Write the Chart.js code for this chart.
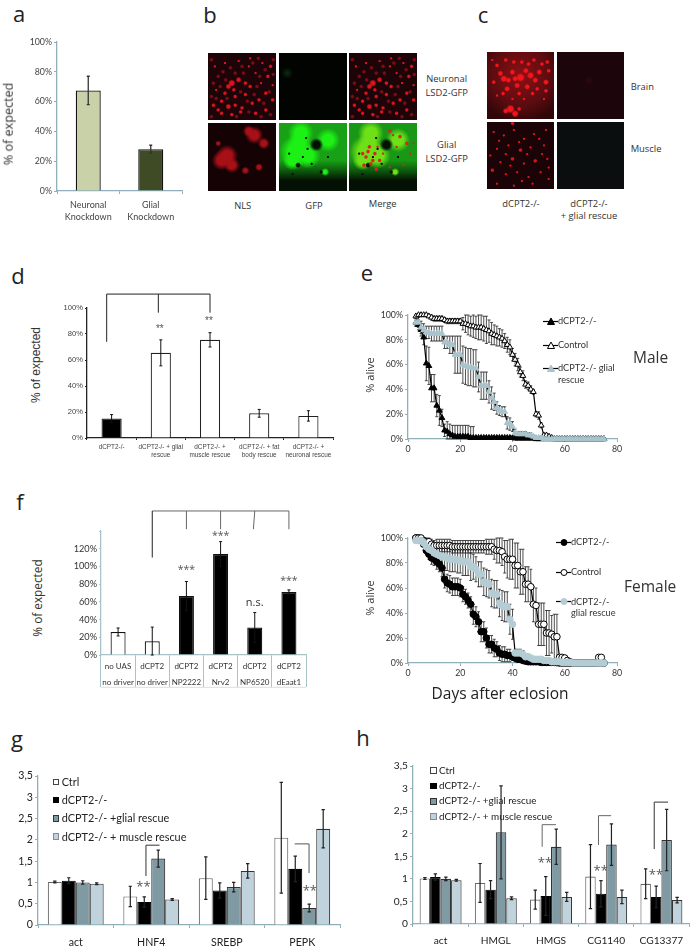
<!DOCTYPE html>
<html>
<head>
<meta charset="utf-8">
<script src="https://cdn.jsdelivr.net/npm/chart.js@4"></script>
<style>
  html, body { margin: 0; background: #fff; }
  #page { position: relative; width: 693px; height: 951px; overflow: hidden; font-family: "Open Sans", sans-serif; color: #333; }
  #page canvas { position: absolute; }
  .t { position: absolute; white-space: nowrap; line-height: 1; }
  .pic { position: absolute; overflow: hidden; }
  .pic i { position: absolute; inset: 0; filter: blur(0.7px); }
  svg { position: absolute; overflow: visible; }
</style>
</head>
<body>
<div id="page"></div>
<script>
const AXIS = "#8fb0ba";
const SLATE = "#7f9aa3";
const PALE = "#c0d3dc";

// a
const aLabels = [["Neuronal", "Knockdown"], ["Glial", "Knockdown"]];
const aValues = [67.5, 28];
const aErr = [9.5, 2.7];

// d
const dLabels = [["dCPT2-/-"], ["dCPT2-/- + glial", "rescue"], ["dCPT2-/- +", "muscle rescue"], ["dCPT2-/- + fat", "body rescue"], ["dCPT2-/- +", "neuronal rescue"]];
const dValues = [15, 65.5, 75.5, 19, 17];
const dErr = [3, 10, 5.5, 3, 4];

// f
const fLabels = [["no UAS", "no driver"], ["dCPT2", "no driver"], ["dCPT2", "NP2222"], ["dCPT2", "Nrv2"], ["dCPT2", "NP6520"], ["dCPT2", "dEaat1"]];
const fValues = [26, 15.5, 66.5, 114, 31, 71];
const fErr = [4.5, 16, 16.5, 14, 17, 2.5];

// e, days 3 to 75
const days = [3,4,5,6,7,8,9,10,11,12,13,14,15,16,17,18,19,20,21,22,23,24,25,26,27,28,29,30,31,32,33,34,35,36,37,38,39,40,41,42,43,44,45,46,47,48,49,50,51,52,53,54,55,56,57,58,59,60,61,62,63,64,65,66,67,68,69,70,71,72,73,74,75];

const maleNull = [94,92,88,82,61,59,41,41,27,23,17,7,6,4,3,2,2,2,2,2,2,1,1,1,1,1,1,1,1,1,1,1,1,1,1,1,1,1,.5,.5,.5,.5,.5,.5,.5,.5,0,0,0,0,0,0,0,0,0,0,0,0,0,0,0,0,0,0,0,0,0,0,0,0,0,0,0];
const maleNullErr = [3,4,5,6,14,15,11,11,9,12,7,5,8,8,8,9,9,9,9,9,9,9,9,1,0,0,0,0,0,0,0,0,0,0,0,0,0,0,0,0,0,0,0,0,0,0,0,0,0,0,0,0,0,0,0,0,0,0,0,0,0,0,0,0,0,0,0,0,0,0,0,0,0];
const maleCtrl = [99,100,100,100,100,99,98,97,97,97,97,96,95,95,95,95,95,95,93,93,92,91,91,90,90,90,89,88,87,85,84,83,82,81,79,76,74,68,64,60,54,51,44,43,40,38,20,19,11,3,3,2,1,0,0,0,0,0,0,0,0,0,0,0,0,0,0,0,0,0,0,0,0];
const maleCtrlErr = [1,0,0,0,0,1,2,2,2,2,2,2,2,2,2,2,2,2,5,7,8,8,9,9,10,10,10,11,9,9,8,8,7,7,6,6,6,5,5,5,4,4,3,3,3,2,2,3,2,1,1,1,0,0,0,0,0,0,0,0,0,0,0,0,0,0,0,0,0,0,0,0,0];
const maleGlial = [94,94,90,88,86,86,85,85,85,85,85,78,78,76,76,68,68,68,60,59,58,58,57,57,50,43,43,43,38,33,30,25,23,22,22,13,12,10,5,4,4,4,4,3,3,2,1,1,1,0,0,0,0,0,0,0,0,0,0,0,0,0,0,0,0,0,0,0,0,0,0,0,0];
const maleGlialErr = [3,4,5,5,5,5,6,6,6,6,6,5,5,7,7,15,15,15,15,15,15,15,15,15,12,11,11,11,9,9,7,5,4,4,4,5,5,4,3,2,2,2,2,2,2,1,1,1,0,0,0,0,0,0,0,0,0,0,0,0,0,0,0,0,0,0,0,0,0,0,0,0,0];

const femaleNull = [100,100,98,95,90,87,84,83,81,79,76,67,64,63,61,61,61,60,55,53,50,47,39,37,33,25,25,20,15,15,12,11,8,7,7,6,6,5,4,3,3,2,1.5,1,1,1,1,1,.5,.5,.5,.5,.5,.5,.3,0,0,0,0,0,0,0,0,0,0,0,0,0,0,0,0,0,0];
const femaleNullErr = [0,0,1,2,3,4,5,5,6,6,7,7,7,7,7,7,7,7,6,6,6,6,8,8,8,8,8,8,7,7,7,6,6,6,6,5,5,3,3,2,2,1,1,1,0,0,0,0,0,0,0,0,0,0,0,0,0,0,0,0,0,0,0,0,0,0,0,0,0,0,0,0,0];
const femaleCtrl = [100,100,100,98,97,97,95,94,94,94,94,94,94,94,93,93,93,93,93,93,93,93,93,93,93,93,93,93,93,93,91,90,90,89,85,83,83,83,78,78,73,73,63,63,61,47,46,31,31,31,24,24,23,21,21,4.5,4.5,4,2,1,0,0,0,0,0,0,0,0,0,0,4.5,4.5,0];
const femaleCtrlErr = [0,0,0,1,3,4,4,4,5,5,5,5,5,5,5,5,5,5,5,5,5,5,5,5,5,5,5,6,6,6,8,10,10,11,13,15,16,16,18,18,18,18,14,14,14,14,14,17,17,17,18,18,15,18,18,2,1,1,1,1,0,0,0,0,0,0,0,0,0,0,0,0,0];
const femaleGlial = [98,98,98,96,93,91,90,88,87,86,85,85,84,83,83,83,82,82,81,81,81,77,77,75,71,71,65,64,63,56,55,55,48,46,45,45,35,31,8,8,8,7,5,5,4,3,3,3,3,2,2,2,1,1,1,1,.5,.5,.5,.5,0,0,0,0,0,0,0,0,0,0,0,0,0];
const femaleGlialErr = [1,1,2,3,4,5,6,7,8,8,9,9,10,10,10,10,10,10,11,11,11,11,10,10,10,10,11,11,11,11,11,11,11,12,12,12,12,12,3,3,3,3,2,2,2,1,1,1,1,1,1,1,0,0,0,0,0,0,0,0,0,0,0,0,0,0,0,0,0,0,0,0,0];

// g
const gLabels = ["act", "HNF4", "SREBP", "PEPK"];
const gCtrl = [1.01, .67, 1.1, 2.05];
const gCtrlErr = [.02, .24, .5, 1.3];
const gNull = [1.04, .54, .81, 1.32];
const gNullErr = [.07, .12, .18, .3];
const gGlial = [1.0, 1.56, .89, .4];
const gGlialErr = [.04, .2, .11, .09];
const gMuscle = [.97, .6, 1.27, 2.26];
const gMuscleErr = [.02, .02, .17, .45];

// h
const hLabels = ["act", "HMGL", "HMGS", "CG1140", "CG13377"];
const hCtrl = [1.01, .91, .54, 1.05, .89];
const hCtrlErr = [.02, .43, .21, .71, .33];
const hNull = [1.04, .76, .62, .67, .6];
const hNullErr = [.07, .2, .43, .29, .24];
const hGlial = [1.0, 2.03, 1.71, 1.76, 1.86];
const hGlialErr = [.04, 1.03, .39, .46, .68];
const hMuscle = [.97, .57, .6, .6, .53];
const hMuscleErr = [.02, .03, .1, .15, .06];

const page = document.getElementById("page");

function text(str, x, y, size, opts = {}) {
  const el = document.createElement("div");
  el.className = "t";
  el.textContent = str;
  el.style.fontSize = size + "px";
  el.style.left = x + "px";
  el.style.top = y + "px";
  if (opts.font) el.style.fontFamily = opts.font;
  if (opts.color) el.style.color = opts.color;
  let tr = "translateY(-50%)";
  if (opts.center) tr = "translate(-50%,-50%)";
  if (opts.rotate) tr = "translate(-50%,-50%) rotate(-90deg)";
  el.style.transform = tr;
  page.appendChild(el);
}

// error bars for every dataset that carries an err list
const errorBars = {
  id: "errorBars",
  draw(chart) {
    const o = chart.options.plugins.errorBars;
    const y = chart.scales.y;
    const ctx = chart.ctx;
    ctx.save();
    ctx.strokeStyle = o.color || "#000";
    ctx.lineWidth = o.width || 1;
    chart.data.datasets.forEach((ds, d) => {
      if (!ds.err) return;
      const pts = chart.getDatasetMeta(d).data;
      ds.err.forEach((e, i) => {
        if (!e) return;
        const x = pts[i].x;
        const hi = y.getPixelForValue(Math.min(ds.data[i] + e, o.ceil ?? 1e9));
        const lo = y.getPixelForValue(Math.max(ds.data[i] - e, 0));
        ctx.beginPath();
        ctx.moveTo(x, hi); ctx.lineTo(x, lo);
        ctx.moveTo(x - o.cap, hi); ctx.lineTo(x + o.cap, hi);
        ctx.moveTo(x - o.cap, lo); ctx.lineTo(x + o.cap, lo);
        ctx.stroke();
      });
    });
    ctx.restore();
  },
  beforeDatasetsDraw(chart) { if (chart.config.type === "line") this.draw(chart); },
  afterDatasetsDraw(chart) { if (chart.config.type === "bar") this.draw(chart); }
};

// significance brackets and stars, placed in category index / axis value
const notes = {
  id: "notes",
  afterDraw(chart) {
    const o = chart.options.plugins.notes;
    if (!o) return;
    const { x, y } = chart.scales;
    const ctx = chart.ctx;
    ctx.save();
    (o.brackets || []).forEach(b => {
      ctx.strokeStyle = b.color || "#222";
      ctx.lineWidth = b.width || 1;
      ctx.beginPath();
      b.path.forEach((p, i) => {
        const px = x.getPixelForValue(p[0]), py = y.getPixelForValue(p[1]);
        if (i === 0 || p[2]) ctx.moveTo(px, py); else ctx.lineTo(px, py);
      });
      ctx.stroke();
    });
    (o.stars || []).forEach(s => {
      ctx.fillStyle = s.color || "#555";
      ctx.font = s.font || "10.5px 'Open Sans'";
      ctx.textAlign = "center";
      ctx.textBaseline = "middle";
      ctx.fillText(s.text, x.getPixelForValue(s.x), y.getPixelForValue(s.y));
    });
    if (o.baseline) {
      ctx.strokeStyle = o.baseline.color;
      ctx.beginPath();
      ctx.moveTo(chart.chartArea.left, o.baseline.y);
      ctx.lineTo(chart.chartArea.right, o.baseline.y);
      ctx.stroke();
    }
    ctx.restore();
  }
};

Chart.register(errorBars, notes);

// box = plot area in page pixels; canvas grows around it by the margins
function plot(box, m, type, data, scales, plugins) {
  const c = document.createElement("canvas");
  c.width = m.l + box.w + m.r;
  c.height = m.t + box.h + m.b;
  c.style.left = (box.x - m.l) + "px";
  c.style.top = (box.y - m.t) + "px";
  page.appendChild(c);
  scales.y.afterFit = s => { s.width = m.l; };
  scales.x.afterFit = s => { s.height = m.b; };
  return new Chart(c, {
    type,
    data,
    options: {
      responsive: false,
      animation: false,
      events: [],
      layout: { padding: { top: m.t, right: m.r, left: 0, bottom: 0 } },
      scales,
      plugins: Object.assign({ legend: { display: false }, tooltip: { enabled: false } }, plugins)
    }
  });
}

function axisStyle(color, size, fontFamily, tickColor, tickLen) {
  return {
    border: { color, width: 1.3 },
    grid: { drawOnChartArea: false, color, tickLength: tickLen, lineWidth: 1 },
    ticks: { color: tickColor, font: { size, family: fontFamily }, padding: 2, maxRotation: 0, autoSkip: false }
  };
}

const pct = v => v + "%";
const comma = v => String(v).replace(".", ",");

// ---- a
const aX = axisStyle(AXIS, 9, "Lato", "#444", 3);
aX.ticks.padding = 5;
aX.ticks.font.lineHeight = 1.35;
const aY = axisStyle(AXIS, 8.8, "Lato", "#444", 3);
aY.min = 0; aY.max = 100; aY.ticks.stepSize = 20; aY.ticks.callback = pct;
plot({ x: 57, y: 41.7, w: 125, h: 149 }, { l: 57, t: 12, r: 10, b: 40 }, "bar",
  { labels: aLabels, datasets: [{ data: aValues, err: aErr, backgroundColor: ["#c9d1a8", "#3f4b24"], borderColor: "#111", borderWidth: 1.3, barPercentage: .4, categoryPercentage: 1 }] },
  { x: aX, y: aY },
  { errorBars: { cap: 1.5, width: 1.3, color: "#333" } });

// ---- d
const dX = axisStyle("#222", 6.4, "Liberation Sans", "#444", 2);
dX.ticks.padding = 3;
dX.ticks.font.lineHeight = 1.3;
const dY = axisStyle("#222", 7.6, "Liberation Sans", "#444", 2);
dY.min = 0; dY.max = 100; dY.ticks.stepSize = 20; dY.ticks.callback = pct;
plot({ x: 87, y: 308.3, w: 246, h: 130.7 }, { l: 40, t: 20, r: 10, b: 30 }, "bar",
  { labels: dLabels, datasets: [{ data: dValues, err: dErr, backgroundColor: ["#000", "#fff", "#fff", "#fff", "#fff"], borderColor: "#222", borderWidth: 1.2, barPercentage: .41, categoryPercentage: 1 }] },
  { x: dX, y: dY },
  {
    errorBars: { cap: 1.5, width: 1, color: "#111" },
    notes: {
      brackets: [{ color: "#222", path: [[-.1, 74], [-.1, 110.7], [2, 110.7], [2, 96.4], [.95, 110.7, 1], [.95, 96.4]] }],
      stars: [{ text: "**", x: .98, y: 84, font: "10px 'Liberation Sans'" }, { text: "**", x: 1.98, y: 89.5, font: "10px 'Liberation Sans'" }]
    }
  });

// ---- f
const fX = axisStyle("#a9c3cb", 8, "Lato", "#333", 32);
fX.ticks.padding = -29;
fX.ticks.font.lineHeight = 2.05;
const fY = axisStyle("#a9c3cb", 9.2, "Lato", "#333", 2);
fY.min = 0; fY.max = 140; fY.ticks.stepSize = 20; fY.ticks.callback = v => v > 120 ? "" : v + "%";
plot({ x: 100.7, y: 530.7, w: 205.3, h: 124.3 }, { l: 50, t: 25, r: 10, b: 36 }, "bar",
  { labels: fLabels, datasets: [{ data: fValues, err: fErr, backgroundColor: ["#fff", "#fff", "#000", "#000", "#000", "#000"], borderColor: "#111", borderWidth: 1.2, barPercentage: .44, categoryPercentage: 1 }] },
  { x: fX, y: fY },
  {
    errorBars: { cap: 1.5, width: 1, color: "#111" },
    notes: {
      baseline: { y: 25 + 124.3 + 32, color: "#d5e2e6" },
      brackets: [
        { color: "#666", path: [[1, 162.6], [5, 162.6], [5, 142], [4, 162.6, 1], [3.96, 142], [2, 162.6, 1], [2, 142], [3, 162.6, 1], [3, 142]] },
        { color: "#222", path: [[1, 110], [1, 162.6]] }
      ],
      stars: [
        { text: "***", x: 2, y: 96 }, { text: "***", x: 3, y: 134 }, { text: "***", x: 5, y: 84 },
        { text: "n.s.", x: 4, y: 59, font: "11px 'Open Sans'", color: "#333" }
      ]
    }
  });

// ---- e
const lineSet = (data, err, marker, fill, order) => ({
  data, err, order, clip: false,
  borderColor: "#000", borderWidth: 1.2, tension: 0,
  pointStyle: marker, pointRadius: 3.3,
  pointBackgroundColor: fill,
  pointBorderColor: fill === "#000" || fill === "#fff" ? "#000" : fill,
  pointBorderWidth: 1
});

function survival(box, marker, light, sets) {
  const x = axisStyle(AXIS, 8.8, "Lato", "#333", 3);
  x.type = "linear"; x.min = 0; x.max = 80; x.ticks.stepSize = 20;
  const y = axisStyle(AXIS, 8.8, "Lato", "#333", 3);
  y.min = 0; y.max = 100; y.ticks.stepSize = 20; y.ticks.callback = pct;
  plot(box, { l: 40, t: 12, r: 14, b: 16 }, "line", {
    labels: days,
    datasets: [
      lineSet(sets[0], sets[1], marker, "#000", 3),
      lineSet(sets[2], sets[3], marker, "#fff", 2),
      lineSet(sets[4], sets[5], marker, light, 1)
    ]
  }, { x, y }, { errorBars: { cap: 1.5, width: .8, color: "#222", ceil: 100 } });
}

survival({ x: 408.3, y: 314.7, w: 209, h: 124.6 }, "triangle", "#a9c4cc",
  [maleNull, maleNullErr, maleCtrl, maleCtrlErr, maleGlial, maleGlialErr]);
survival({ x: 408.3, y: 538.3, w: 209, h: 125 }, "circle", "#b4ccd4",
  [femaleNull, femaleNullErr, femaleCtrl, femaleCtrlErr, femaleGlial, femaleGlialErr]);

// line + marker keys for e, drawn beside the plain text
function key(x, y, shape, fill) {
  const s = document.createElementNS("http://www.w3.org/2000/svg", "svg");
  s.setAttribute("width", 15); s.setAttribute("height", 9);
  s.style.left = x + "px"; s.style.top = (y - 4.5) + "px";
  const mark = shape === "circle"
    ? `<circle cx="8" cy="4.5" r="3" fill="${fill}" stroke="${fill === "#fff" || fill === "#000" ? "#000" : fill}"/>`
    : `<path d="M8 1 L11.5 7.5 L4.5 7.5 Z" fill="${fill}" stroke="${fill === "#fff" || fill === "#000" ? "#000" : fill}"/>`;
  s.innerHTML = `<line x1="0" x2="15" y1="4.5" y2="4.5" stroke="#000" stroke-width="1.2"/>` + mark;
  page.appendChild(s);
}

const keyFont = { font: "Lato" };
key(543, 321, "triangle", "#000"); text("dCPT2-/-", 558, 321, 9.2, keyFont);
key(543, 345, "triangle", "#fff"); text("Control", 558, 345, 9.2, keyFont);
key(543, 368, "triangle", "#a9c4cc"); text("dCPT2-/-  glial", 558, 368, 9.2, keyFont); text("rescue", 558, 380, 9.2, keyFont);
key(556, 542, "circle", "#000"); text("dCPT2-/-", 571, 542, 9.2, keyFont);
key(556, 572, "circle", "#fff"); text("Control", 571, 572, 9.2, keyFont);
key(556, 601.7, "circle", "#b4ccd4"); text("dCPT2-/-", 571, 601.7, 9.2, keyFont); text("glial  rescue", 571, 613, 9.2, keyFont);

// ---- g and h
function qpcr(box, m, labels, cols, size, catPct, notesCfg) {
  const x = axisStyle(AXIS, size, "Lato", "#222", 3);
  x.ticks.padding = 8;
  const y = axisStyle(AXIS, size, "Lato", "#222", 3);
  y.min = 0; y.max = 3.5; y.ticks.stepSize = .5; y.ticks.callback = comma;
  const fills = ["#fff", "#000", SLATE, PALE];
  const edges = ["#666", "#000", "#333", "#333"];
  plot(box, m, "bar", {
    labels,
    datasets: cols.map((c, i) => ({ data: c[0], err: c[1], backgroundColor: fills[i], borderColor: edges[i], borderWidth: 1.1, barPercentage: 1, categoryPercentage: catPct }))
  }, { x, y }, { errorBars: { cap: 1.7, width: 1.2, color: "#222" }, notes: notesCfg });
}

qpcr({ x: 38.3, y: 775.7, w: 302.7, h: 149.3 }, { l: 38, t: 10, r: 10, b: 26 }, gLabels,
  [[gCtrl, gCtrlErr], [gNull, gNullErr], [gGlial, gGlialErr], [gMuscle, gMuscleErr]], 10.6, .74, {
    brackets: [
      { color: "#333", path: [[.93, 1.15], [.93, 1.875], [1.11, 1.875]] },
      { color: "#555", path: [[2.9, 1.905], [3.09, 1.905], [3.09, 1.22]] }
    ],
    stars: [{ text: "**", x: .896, y: .88, font: "13px 'Open Sans'" }, { text: "**", x: 3.1, y: .79, font: "13px 'Open Sans'" }]
  });

qpcr({ x: 413.3, y: 765.7, w: 276.7, h: 158.6 }, { l: 40, t: 10, r: 3, b: 26 }, hLabels,
  [[hCtrl, hCtrlErr], [hNull, hNullErr], [hGlial, hGlialErr], [hMuscle, hMuscleErr]], 10.2, .76, {
    brackets: [
      { color: "#666", path: [[1.84, 1.71], [1.84, 2.2], [2.09, 2.2]] },
      { color: "#666", path: [[2.86, 1.75], [2.86, 2.4], [3.09, 2.4]] },
      { color: "#333", path: [[3.87, 1.66], [3.87, 2.7], [4.12, 2.7]] }
    ],
    stars: [
      { text: "**", x: 1.89, y: 1.35, font: "13px 'Open Sans'" },
      { text: "**", x: 2.9, y: 1.17, font: "13px 'Open Sans'" },
      { text: "**", x: 3.9, y: 1.08, font: "13px 'Open Sans'" }
    ]
  });

const qLegend = ["Ctrl", "dCPT2-/-", "dCPT2-/- +glial rescue", "dCPT2-/- + muscle rescue"];
function legendBlock(x, y, gap, box, size) {
  qLegend.forEach((name, i) => {
    const sw = document.createElement("div");
    sw.style.cssText = `position:absolute;left:${x}px;top:${y + i * gap - box / 2}px;width:${box}px;height:${box}px;box-sizing:border-box;border:1px solid ${["#444", "#000", "#333", "#889"][i]};background:${["#fff", "#000", SLATE, PALE][i]}`;
    page.appendChild(sw);
    text(name, x + box + 2.5, y + i * gap, size, { color: "#222", font: "Lato" });
  });
}
legendBlock(52.7, 782, 18.2, 6.5, 10.9);
legendBlock(430, 770.7, 15.3, 6.5, 9.9);

// ---- plain text
[["a", 19, 13], ["b", 210, 14], ["c", 483, 14], ["d", 18, 275], ["e", 367, 272], ["f", 20, 501], ["g", 17, 738], ["h", 363, 737]]
  .forEach(p => text(p[0], p[1], p[2], 22, { center: true, color: "#222" }));

text("% of expected", 9, 124, 12.6, { rotate: true });
text("% of expected", 36, 365, 12, { rotate: true, font: "Liberation Sans" });
text("% of expected", 38, 597.5, 11.8, { rotate: true });
text("% alive", 369, 375, 11, { rotate: true });
text("% alive", 369, 598, 11, { rotate: true });
text("Male", 633, 358, 15.5);
text("Female", 624, 587, 15.5);
text("Days after eclosion", 500, 694, 15.5, { center: true, color: "#222" });

[["NLS", 242.7, 206], ["GFP", 314, 206], ["Merge", 382.7, 204], ["Neuronal", 446.7, 79], ["LSD2-GFP", 446.7, 93], ["Glial", 446.7, 145], ["LSD2-GFP", 446.7, 159],
 ["dCPT2-/-", 521, 203.6], ["dCPT2-/-", 589, 203.6], ["+ glial rescue", 589, 216]]
  .forEach(p => text(p[0], p[1], p[2], 9.4, { center: true }));
text("Brain", 630.7, 87, 9.4);
text("Muscle", 630.7, 149, 9.4);

// ---- micrographs: hand placed spots as soft gradients, not data
const neuronSpots = [[35,45,5],[45,40,4],[30,50,4],[38,55,3],[55,45,3],[62,50,3],[25,60,3],[40,65,3],[20,72,3],[30,80,4],[40,78,3],[50,82,3],[15,85,3],[65,75,3],[75,70,3],[85,60,3],[92,20,3],[80,15,2],[88,35,3],[60,20,2],[12,55,2],[8,78,3],[48,88,3],[70,90,3],[85,85,3],[95,70,3],[70,30,2],[55,62,3],[20,90,3],[35,92,3],[78,45,2],[95,48,2],[10,20,2],[25,15,2],[45,12,2],[62,8,2]];
const neuronDim = [[5,10,3],[15,35,3],[22,28,3],[33,22,3],[52,30,3],[66,15,3],[74,8,3],[84,25,3],[96,10,3],[8,45,3],[18,50,3],[48,58,3],[58,72,3],[72,50,3],[82,75,3],[92,92,3],[5,95,3],[28,68,3],[42,95,3],[60,88,3],[78,95,3],[90,58,3],[68,62,3],[50,20,3],[40,30,3],[5,65,3],[12,68,3],[26,40,3],[76,35,3],[96,32,3]];
const glialBlobs = [[28,48,11],[20,55,10],[35,62,8],[68,18,9],[60,12,6],[82,30,6],[55,70,4],[75,65,4],[15,30,3]];
const gfpHoles = [[55,32,7],[28,62,3],[42,38,1.5],[62,72,2],[35,50,1.5],[20,75,1.5],[48,60,1.5],[15,45,1.5],[72,50,1.5],[40,22,1.5]];
const gfpBlobs = [[32,15,13],[24,42,16],[42,48,13],[30,30,12],[72,25,12],[20,55,10],[68,72,4]];
const mergeReds = [[30,35,3],[25,50,3],[38,45,3],[32,60,3],[45,55,3],[60,12,3],[75,20,3],[85,30,3],[70,35,2],[22,62,3],[40,68,3],[60,65,2],[80,62,2],[90,45,2],[28,42,3],[35,55,3],[20,45,3],[42,35,2],[65,18,2],[50,45,2],[95,30,2]];
const brainSpots = [[25,40,5],[38,30,4],[50,38,6],[65,35,5],[78,30,4],[88,45,4],[30,55,4],[45,50,4],[60,52,4],[75,55,3],[15,20,3],[40,15,3],[70,12,3],[90,15,3],[35,85,6],[42,92,5],[15,65,2],[55,70,2],[85,70,2],[20,32,4],[32,42,4],[58,28,4],[72,42,4],[92,28,3],[10,45,3],[52,15,3],[28,12,3],[82,18,3],[42,40,4],[68,62,3],[48,62,3],[24,62,3],[88,58,3],[8,12,2],[62,18,3],[38,70,2],[28,88,4],[48,85,3]];
const muscleSpots = [[10,15,2],[25,20,2],[40,12,2],[55,25,2],[70,18,2],[88,12,2],[15,40,2],[32,35,2],[50,42,3],[65,38,2],[85,35,2],[20,60,2],[38,55,3],[55,62,2],[72,58,3],[90,55,2],[8,72,3],[28,78,2],[45,75,2],[62,82,2],[80,75,2],[15,92,2],[40,95,2],[68,92,2],[38,2,3],[92,85,2],[18,28,2],[48,30,2],[78,25,2],[28,48,2],[60,48,2],[5,50,2],[82,48,2],[35,65,2],[52,88,2],[92,68,2]];

const hardSpots = (list, color, k = 1) => list.map(s => `radial-gradient(circle at ${s[0]}% ${s[1]}%, ${color} 0, ${color} ${s[2] * .38 * k}px, transparent ${s[2] * .75 * k}px)`);
const softSpots = (list, color) => list.map(s => `radial-gradient(circle at ${s[0]}% ${s[1]}%, ${color} 0, ${color} ${s[2] * .45}px, transparent ${s[2] * 1}px)`);

function pic(x, y, w, h, layers, base) {
  const d = document.createElement("div");
  d.className = "pic";
  d.style.cssText = `left:${x}px;top:${y}px;width:${w}px;height:${h}px;background:${base}`;
  const i = document.createElement("i");
  i.style.background = layers.length ? layers.join(",") : "none";
  d.appendChild(i);
  page.appendChild(d);
}

const neuronLayers = [...hardSpots(neuronSpots, "#d8141c"), ...hardSpots(neuronDim, "#7c0c14")];
pic(208, 52.7, 68, 67.5, neuronLayers, "#1c0408");
pic(278.7, 52.7, 68, 67.5, [`radial-gradient(circle at 12% 30%, #0c2c10 0, transparent 6px)`], "#020402");
pic(349, 52.7, 68, 67.5, neuronLayers, "#1c0408");
pic(208, 123, 68, 68, softSpots(glialBlobs, "#a81018"), "#140204");
pic(278.7, 123, 68, 68, [...hardSpots(gfpHoles, "#061006", 1.3), ...softSpots(gfpBlobs, "#1cf014"), "linear-gradient(#18a016 55%, #0c500c 72%, #041004 85%)"], "#041004");
pic(349, 123, 68, 68, [...hardSpots(mergeReds, "#d8241c"), ...hardSpots(gfpHoles, "#061006", 1.3), ...softSpots(gfpBlobs, "#6ee018"), "linear-gradient(#189816 55%, #0c500c 72%, #041004 85%)"], "#041004");
pic(487, 52.3, 67, 67, [...hardSpots(brainSpots, "#f4141c"), "radial-gradient(circle at 50% 35%, #8c1014 0, #5a0c10 55%, #300608 85%)"], "#2a0608");
pic(556.7, 52.3, 67, 67, ["radial-gradient(circle at 48% 42%, #300812 0, transparent 5px)"], "#1c060c");
pic(487, 122, 67, 67.3, hardSpots(muscleSpots, "#d4141c"), "#1a0408");
pic(556.7, 122, 67, 67.3, [], "#0b0e0f");
</script>
</body>
</html>
